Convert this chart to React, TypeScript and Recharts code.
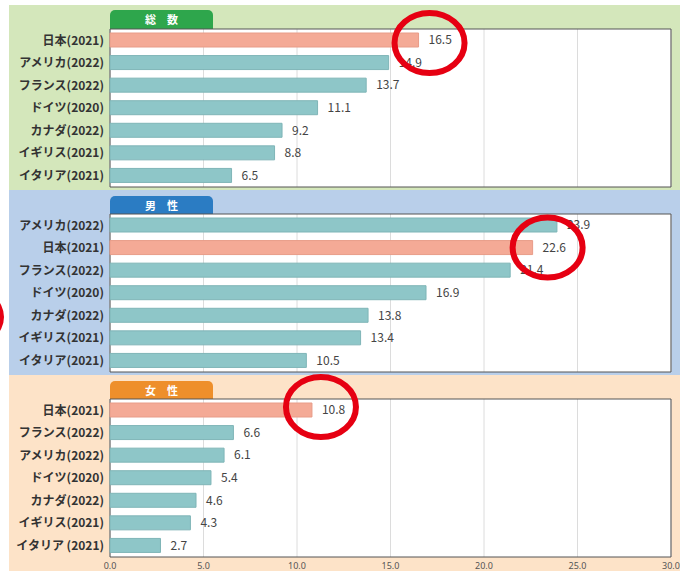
import React from 'react';
import { BarChart, Bar, XAxis, YAxis, CartesianGrid, LabelList, Cell, ReferenceArea } from 'recharts';

// categories per panel (order as printed)
const totalNames = ['日本(2021)', 'アメリカ(2022)', 'フランス(2022)', 'ドイツ(2020)', 'カナダ(2022)', 'イギリス(2021)', 'イタリア(2021)'];
const totalValues = [16.5, 14.9, 13.7, 11.1, 9.2, 8.8, 6.5];

const maleNames = ['アメリカ(2022)', '日本(2021)', 'フランス(2022)', 'ドイツ(2020)', 'カナダ(2022)', 'イギリス(2021)', 'イタリア(2021)'];
const maleValues = [23.9, 22.6, 21.4, 16.9, 13.8, 13.4, 10.5];

// non-breaking space keeps the last label on one line
const femaleNames = ['日本(2021)', 'フランス(2022)', 'アメリカ(2022)', 'ドイツ(2020)', 'カナダ(2022)', 'イギリス(2021)', 'イタリア\u00a0(2021)'];
const femaleValues = [10.8, 6.6, 6.1, 5.4, 4.6, 4.3, 2.7];

const xTicks = [0, 5, 10, 15, 20, 25, 30];

const TEAL = '#8ec6c8';
const SALMON = '#f4aa96';
const FONT = '"Noto Sans CJK JP", "Noto Sans", sans-serif';

const build = (names: string[], values: number[]) =>
  names.map((name, i) => ({ name, value: values[i], jp: name.startsWith('日本') }));

const panels = [
  { title: '総　数', tab: '#2ea64c', bg: '#d4e7bb', top: 5, bottom: 190, tabTop: 10, boxTop: 29, ringDx: 11, ringDy: 3, data: build(totalNames, totalValues) },
  { title: '男　性', tab: '#2b7cc3', bg: '#b9cfea', top: 190, bottom: 375, tabTop: 196, boxTop: 214, ringDx: 15, ringDy: 0, data: build(maleNames, maleValues) },
  { title: '女　性', tab: '#ee8f2b', bg: '#fde3c8', top: 375, bottom: 571, tabTop: 381, boxTop: 399, ringDx: 9, ringDy: -3, data: build(femaleNames, femaleValues) },
];

const BOX_H = 158;
const AXIS_H = 14;

const ValueLabel = (props: any) => {
  const { x, y, width, height, value } = props;
  return (
    <text x={x + width + 10} y={y + height / 2} dy="0.36em" fontSize={12} fill="#444" fontFamily={FONT}>
      {Number(value).toFixed(1)}
    </text>
  );
};

// red hand-drawn style ring around the Japan value
const makeRing = (dx: number, dy: number) => (props: any) => {
  const { x, y, width, height, value } = props;
  if (!String(value).startsWith('日本')) return null;
  return (
    <ellipse cx={x + width + dx} cy={y + height / 2 + dy} rx={35} ry={30} fill="none" stroke="#e60012" strokeWidth={6} />
  );
};

const XTick = (props: any) => {
  const { x, y, payload } = props;
  return (
    <text x={x} y={y + 4} textAnchor="middle" fontSize={9} fill="#555" fontFamily='"Noto Sans", sans-serif'>
      {Number(payload.value).toFixed(1)}
    </text>
  );
};

const Panel = ({ p, last }: { p: any; last: boolean }) => (
  <div style={{ position: 'absolute', left: 0, top: p.boxTop }}>
    <BarChart
      width={680}
      height={BOX_H + (last ? AXIS_H : 0)}
      data={p.data}
      layout="vertical"
      margin={{ top: 0, right: 9, bottom: 0, left: 0 }}
      barSize={14}
    >
      <CartesianGrid horizontal={false} stroke="#dcdcdc" fill="#fff" />
      <XAxis
        type="number"
        domain={[0, 30]}
        ticks={xTicks}
        hide={!last}
        height={last ? AXIS_H : 0}
        axisLine={false}
        tickLine={false}
        tick={<XTick />}
      />
      <YAxis
        type="category"
        dataKey="name"
        width={110}
        axisLine={false}
        tickLine={false}
        tickMargin={0}
        interval={0}
        tick={{ fontSize: 12, fill: '#333', fontWeight: 'bold', fontFamily: FONT }}
      />
      <ReferenceArea x1={0} x2={30} fill="none" stroke="#555" strokeWidth={1} ifOverflow="visible" />
      <Bar dataKey="value" isAnimationActive={false} strokeWidth={1}>
        {p.data.map((d: any, i: number) => (
          <Cell key={i} fill={d.jp ? SALMON : TEAL} stroke={d.jp ? '#e89c88' : '#7fb5b7'} />
        ))}
        <LabelList dataKey="value" content={ValueLabel} />
        <LabelList dataKey="name" content={makeRing(p.ringDx, p.ringDy)} />
      </Bar>
    </BarChart>
  </div>
);

export default function App() {
  return (
    <div style={{ position: 'absolute', left: 0, top: 0, width: 680, height: 571, overflow: 'hidden', background: '#fff' }}>
      <style>{'.recharts-surface{overflow:visible}'}</style>
      {panels.map((p, i) => (
        <div key={'bg' + i} style={{ position: 'absolute', left: 9, top: p.top, width: 671, height: p.bottom - p.top, background: p.bg }} />
      ))}
      {panels.map((p, i) => (
        <div
          key={'tab' + i}
          style={{
            position: 'absolute', left: 110, top: p.tabTop, width: 103, height: p.boxTop - p.tabTop,
            background: p.tab, borderRadius: '5px 5px 0 0', color: '#fff', fontFamily: FONT,
            fontWeight: 'bold', fontSize: 11, lineHeight: `${p.boxTop - p.tabTop}px`, textAlign: 'center',
          }}
        >
          {p.title}
        </div>
      ))}
      {panels.map((p, i) => (
        <Panel key={'c' + i} p={p} last={i === panels.length - 1} />
      ))}
      {/* ring cut off at the left edge */}
      <div style={{ position: 'absolute', left: -66, top: 287, width: 58, height: 48, border: '6px solid #e60012', borderRadius: '50%' }} />
    </div>
  );
}
